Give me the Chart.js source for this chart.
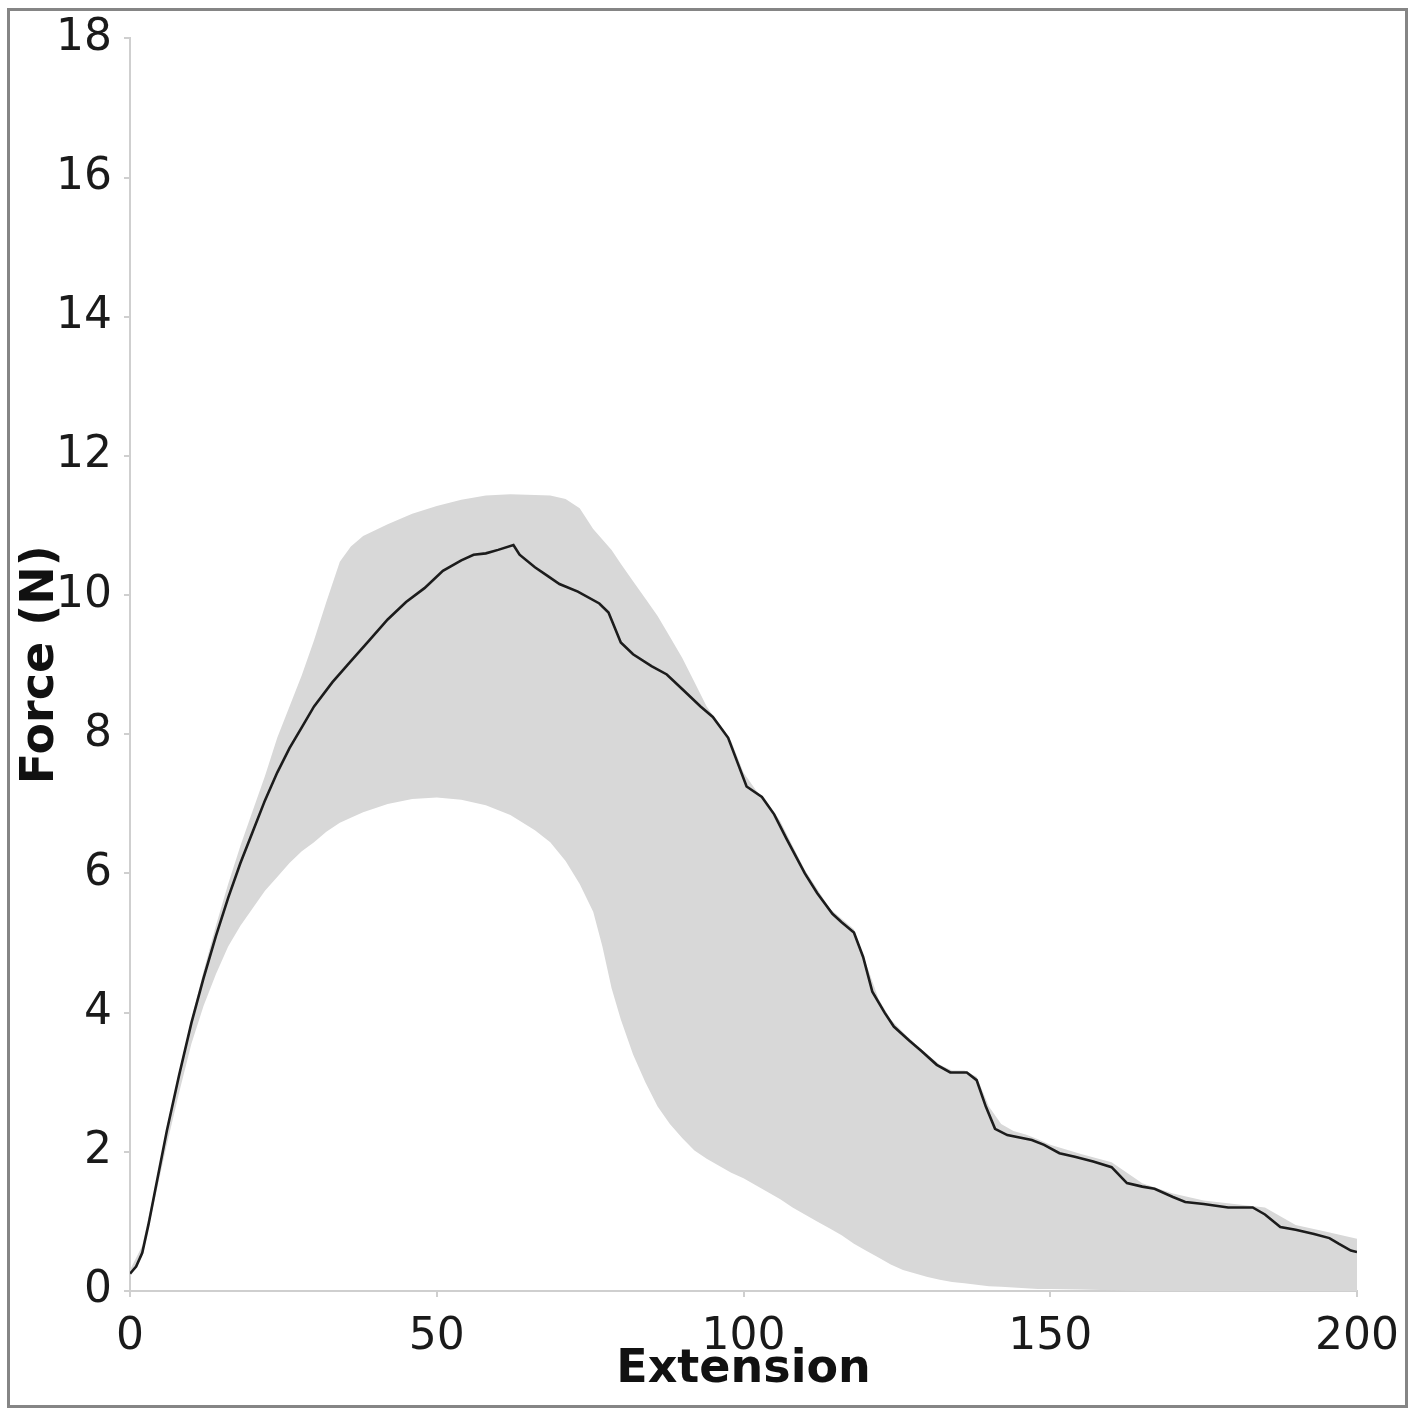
<!DOCTYPE html>
<html>
<head>
<meta charset="utf-8">
<script src="https://cdn.jsdelivr.net/npm/chart.js@4.4.1/dist/chart.umd.min.js"></script>
<style>
  html, body { margin: 0; padding: 0; background: #ffffff; }
  #wrap { position: absolute; left: 0; top: 0; width: 1414px; height: 1415px; }
</style>
</head>
<body>
<div id="wrap"><canvas id="c" width="1414" height="1415"></canvas></div>
<script>
// ---- data ----
const xTicks = [0, 50, 100, 150, 200];
const yTicks = [0, 2, 4, 6, 8, 10, 12, 14, 16, 18];

const meanX = [0, 1, 2, 3, 4, 6, 8, 10, 12, 14, 16, 18, 20, 22, 24, 26, 28, 30, 33, 36, 39, 42, 45, 48, 51, 54, 56, 58, 60, 62.5, 63.5, 66, 68, 70, 73, 76.5, 78, 80, 82, 85, 87.5, 90, 93, 95, 97.5, 99, 100.5, 103, 105, 107, 110, 112, 114.5, 116, 118, 119.5, 121, 123, 124.5, 127, 129, 131.5, 133.7, 136.4, 138, 139.5, 141, 143, 147, 149, 151.5, 154, 157, 160, 162.5, 165, 167, 170, 172, 175, 179, 183, 185, 187.5, 190, 193, 195.5, 197, 199, 200];
const meanY = [0.25, 0.35, 0.55, 0.95, 1.4, 2.3, 3.1, 3.85, 4.5, 5.1, 5.65, 6.15, 6.6, 7.05, 7.45, 7.8, 8.1, 8.4, 8.75, 9.05, 9.35, 9.65, 9.9, 10.1, 10.35, 10.5, 10.58, 10.6, 10.65, 10.72, 10.58, 10.4, 10.28, 10.16, 10.05, 9.88, 9.75, 9.32, 9.15, 8.98, 8.86, 8.65, 8.4, 8.25, 7.95, 7.6, 7.25, 7.1, 6.85, 6.5, 6.0, 5.72, 5.42, 5.3, 5.15, 4.8, 4.3, 4.0, 3.8, 3.6, 3.45, 3.25, 3.14, 3.14, 3.03, 2.65, 2.33, 2.24, 2.17, 2.1, 1.98, 1.93, 1.86, 1.78, 1.55, 1.5, 1.47, 1.35, 1.28, 1.25, 1.2, 1.2, 1.1, 0.92, 0.88, 0.82, 0.76, 0.68, 0.58, 0.56];

const bandX = [0, 2, 4, 6, 8, 10, 12, 14, 16, 18, 20, 22, 24, 26, 28, 30, 32, 34.2, 36, 38, 42, 46, 50, 54, 58, 62, 66, 68.5, 71, 73.3, 75.5, 77, 78.5, 80, 82, 84, 86, 88, 90, 92, 94, 96, 98, 100, 102, 104, 106, 108, 110, 112, 114, 116, 118, 120, 122, 124, 126, 128, 130, 132, 134, 136, 138, 140, 142, 144, 146, 148, 150, 155, 160, 165, 170, 175, 180, 185, 190, 195, 200];
const upperY = [0.3, 0.65, 1.45, 2.35, 3.15, 3.9, 4.6, 5.25, 5.85, 6.4, 6.9, 7.4, 7.95, 8.4, 8.85, 9.35, 9.9, 10.48, 10.7, 10.85, 11.02, 11.17, 11.28, 11.37, 11.43, 11.45, 11.44, 11.43, 11.38, 11.25, 10.95, 10.8, 10.65, 10.45, 10.2, 9.95, 9.7, 9.4, 9.1, 8.75, 8.4, 8.15, 7.9, 7.45, 7.2, 7.0, 6.75, 6.4, 6.05, 5.78, 5.5, 5.35, 5.2, 4.7, 4.2, 3.9, 3.72, 3.55, 3.4, 3.25, 3.17, 3.17, 3.08, 2.65, 2.4, 2.3, 2.25, 2.18, 2.1, 1.97, 1.85, 1.55, 1.4, 1.3, 1.25, 1.2, 0.95, 0.85, 0.75];
const lowerY = [0.2, 0.5, 1.3, 2.1, 2.85, 3.55, 4.1, 4.55, 4.95, 5.25, 5.5, 5.75, 5.95, 6.15, 6.32, 6.45, 6.6, 6.73, 6.8, 6.88, 7.0, 7.07, 7.09, 7.06, 6.98, 6.84, 6.62, 6.45, 6.18, 5.85, 5.45, 4.95, 4.35, 3.9, 3.4, 3.0, 2.65, 2.4, 2.2, 2.02, 1.9, 1.8, 1.7, 1.62, 1.52, 1.42, 1.32, 1.2, 1.1, 1.0, 0.9, 0.8, 0.68, 0.58, 0.48, 0.38, 0.3, 0.25, 0.2, 0.16, 0.13, 0.11, 0.09, 0.07, 0.06, 0.05, 0.04, 0.03, 0.03, 0.02, 0.01, 0, 0, 0, 0, 0, 0, 0, 0];

const xTitle = 'Extension';
const yTitle = 'Force (N)';

// ---- build ----
const pts = (xs, ys) => xs.map((x, i) => ({ x: x, y: ys[i] }));
const FONT = "'DejaVu Sans', 'Liberation Sans', sans-serif";
const AXIS = '#cfcfcf';

const framePlugin = {
  id: 'frame',
  beforeDraw(chart) {
    const ctx = chart.ctx;
    ctx.save();
    ctx.fillStyle = '#ffffff';
    ctx.fillRect(0, 0, chart.width, chart.height);
    ctx.restore();
  },
  afterDraw(chart) {
    const ctx = chart.ctx;
    ctx.save();
    ctx.strokeStyle = '#858585';
    ctx.lineWidth = 3;
    ctx.strokeRect(8.5, 9.5, 1398, 1397);
    ctx.restore();
  }
};

new Chart(document.getElementById('c'), {
  type: 'line',
  data: {
    datasets: [
      { label: 'upper', data: pts(bandX, upperY), borderWidth: 0, borderColor: 'rgba(0,0,0,0)',
        backgroundColor: '#d8d8d8', pointRadius: 0, fill: '+1', tension: 0, order: 2 },
      { label: 'lower', data: pts(bandX, lowerY), borderWidth: 0, borderColor: 'rgba(0,0,0,0)',
        backgroundColor: '#d8d8d8', pointRadius: 0, fill: false, tension: 0, order: 3 },
      { label: 'mean', data: pts(meanX, meanY), borderWidth: 2.6, borderColor: '#1c1c1c',
        pointRadius: 0, fill: false, tension: 0, order: 0 }
    ]
  },
  options: {
    responsive: false,
    animation: false,
    events: [],
    layout: { padding: { left: 18, top: 36, right: 57, bottom: 22 } },
    plugins: { legend: { display: false }, tooltip: { enabled: false } },
    scales: {
      x: {
        type: 'linear', min: 0, max: 200,
        afterBuildTicks: (s) => { s.ticks = xTicks.map(v => ({ value: v })); },
        afterFit: (s) => { s.height = 102; },
        grid: { display: true, drawOnChartArea: false, drawTicks: true, tickLength: 6, color: AXIS, lineWidth: 2 },
        border: { display: true, color: AXIS, width: 2 },
        ticks: { color: '#1a1a1a', padding: 14, maxRotation: 0, font: { family: FONT, size: 44 } },
        title: { display: true, text: xTitle, color: '#111111', padding: 0,
                 font: { family: FONT, size: 46, weight: 'bold', lineHeight: 1 } }
      },
      y: {
        type: 'linear', min: 0, max: 18,
        afterBuildTicks: (s) => { s.ticks = yTicks.map(v => ({ value: v })); },
        afterFit: (s) => { s.width = 112; },
        grid: { display: true, drawOnChartArea: false, drawTicks: true, tickLength: 6, color: AXIS, lineWidth: 2 },
        border: { display: true, color: AXIS, width: 2 },
        ticks: { color: '#1a1a1a', padding: 12, font: { family: FONT, size: 44 } },
        title: { display: true, text: yTitle, color: '#111111', padding: 0,
                 font: { family: FONT, size: 46, weight: 'bold', lineHeight: 1 } }
      }
    }
  },
  plugins: [framePlugin]
});
</script>
</body>
</html>
